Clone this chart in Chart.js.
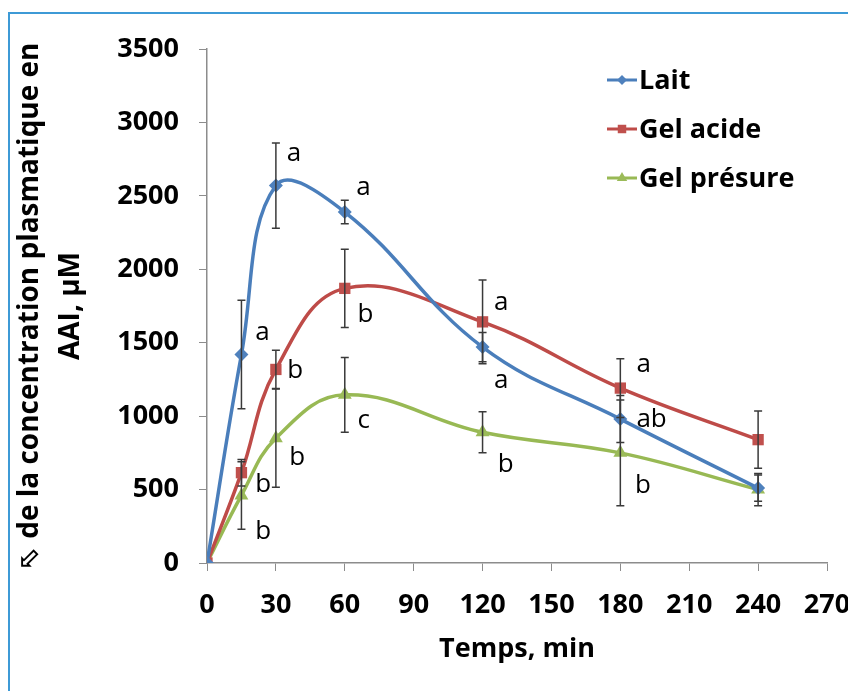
<!DOCTYPE html>
<html lang="fr">
<head>
    <meta charset="UTF-8">
    <title>Concentration plasmatique en AAI</title>
    <style>
        html, body { margin: 0; padding: 0; background: #fff; }
        #wrap { position: relative; width: 848px; height: 691px; }
        #frame { position: absolute; left: 8px; top: 12px; right: -4px; bottom: -4px;
                 border-left: 2px solid #3d9ad6; border-top: 2px solid #3d9ad6; }
        canvas { position: absolute; left: 0; top: 0; }
    </style>
</head>
<body>
<div id="wrap">
    <div id="frame"></div>
    <canvas id="chart" width="848" height="691"></canvas>
</div>

<script src="https://cdn.jsdelivr.net/npm/chart.js@4.4.1/dist/chart.umd.min.js"></script>
<script>
// temps de prélèvement (min)
const temps = [0, 15, 30, 60, 120, 180, 240];

// concentration plasmatique en AAI (µM) et écarts
const lait = [0, 1420, 2570, 2390, 1470, 980, 510];
const laitErr = [0, 370, 290, 80, 100, 160, 90];
const gelAcide = [0, 615, 1318, 1870, 1642, 1191, 840];
const gelAcideErr = [0, 90, 130, 267, 285, 200, 195];
const gelPresure = [0, 460, 850, 1145, 890, 750, 500];
const gelPresureErr = [0, 230, 335, 255, 140, 360, 110];

// lettres de significativité (position en unités des axes)
const lettres = [
    { t: "a", x: 21, y: 1566 }, { t: "a", x: 34.7, y: 2787 }, { t: "a", x: 65, y: 2555 },
    { t: "a", x: 125, y: 1245 }, { t: "ab", x: 187, y: 979 },
    { t: "b", x: 21, y: 535 }, { t: "b", x: 35, y: 1309 }, { t: "b", x: 65.5, y: 1693 },
    { t: "a", x: 125, y: 1776 }, { t: "a", x: 187, y: 1349 },
    { t: "b", x: 21, y: 217 }, { t: "b", x: 35.8, y: 718 }, { t: "c", x: 65.5, y: 972 },
    { t: "b", x: 126.6, y: 667 }, { t: "b", x: 186.4, y: 529 },
];

const xTicks = [0, 30, 60, 90, 120, 150, 180, 210, 240, 270];
const yTicks = [0, 500, 1000, 1500, 2000, 2500, 3000, 3500];

const FONT = '"Open Sans", "DejaVu Sans", sans-serif';

const series = [
    { label: "Lait", data: lait, err: laitErr, line: "#4a7ebb", fill: "#4f81bd", pt: "rectRot", r: 7 },
    { label: "Gel acide", data: gelAcide, err: gelAcideErr, line: "#be4b48", fill: "#c0504d", pt: "rect", r: 8 },
    { label: "Gel présure", data: gelPresure, err: gelPresureErr, line: "#98b954", fill: "#9bbb59", pt: "triangle", r: 8 },
];

const toPoints = arr => arr.map((v, i) => ({ x: temps[i], y: v }));

// barres d'erreur, lettres et légende
const extras = {
    id: "extras",
    afterDatasetsDraw(chart) {
        const { ctx, scales: { x, y } } = chart;
        ctx.save();
        ctx.strokeStyle = "#3a3a3a";
        ctx.lineWidth = 1.5;
        series.forEach(s => {
            s.err.forEach((e, i) => {
                if (!e) return;
                const px = x.getPixelForValue(temps[i]);
                const top = y.getPixelForValue(s.data[i] + e);
                const bot = y.getPixelForValue(s.data[i] - e);
                ctx.beginPath();
                ctx.moveTo(px, top); ctx.lineTo(px, bot);
                ctx.moveTo(px - 4, top); ctx.lineTo(px + 4, top);
                ctx.moveTo(px - 4, bot); ctx.lineTo(px + 4, bot);
                ctx.stroke();
            });
        });
        ctx.fillStyle = "#000";
        ctx.font = "26px " + FONT;
        ctx.textAlign = "left";
        ctx.textBaseline = "middle";
        lettres.forEach(l => {
            ctx.fillText(l.t, x.getPixelForValue(l.x), y.getPixelForValue(l.y));
        });

        // légende
        ctx.font = "bold 27px " + FONT;
        series.forEach((s, i) => {
            const ly = 80 + i * 49;
            ctx.strokeStyle = s.line;
            ctx.lineWidth = 3;
            ctx.beginPath();
            ctx.moveTo(607, ly); ctx.lineTo(637, ly);
            ctx.stroke();
            ctx.fillStyle = s.fill;
            Chart.helpers.drawPoint(ctx, { pointStyle: s.pt, radius: s.r - 2, borderWidth: 0 }, 622, ly);
            ctx.fillStyle = "#000";
            ctx.fillText(s.label, 639, ly + 1);
        });
        ctx.restore();
    },
};

new Chart("chart", {
    type: "line",
    data: {
        datasets: series.map(s => ({
            label: s.label,
            data: toPoints(s.data),
            borderColor: s.line,
            backgroundColor: s.fill,
            borderWidth: 3.5,
            pointStyle: s.pt,
            pointRadius: s.r,
            pointBorderWidth: 0,
            tension: 0.4,
        })),
    },
    options: {
        responsive: false,
        animation: false,
        layout: { padding: { left: 10, top: 49, right: 21, bottom: 21 } },
        plugins: { legend: { display: false }, tooltip: { enabled: false } },
        scales: {
            x: {
                type: "linear",
                min: 0,
                max: 270,
                afterBuildTicks: s => { s.ticks = xTicks.map(v => ({ value: v })); },
                afterFit: s => { s.height = 107; s.paddingLeft = 0; s.paddingRight = 0; },
                grid: { display: true, drawOnChartArea: false, color: "#8c8c8c", tickLength: 8 },
                border: { color: "#8c8c8c", width: 1.5 },
                ticks: { color: "#000", padding: 18, maxRotation: 0, callback: v => v,
                         font: { family: FONT, size: 27, weight: "bold" } },
                title: {
                    display: true, text: "Temps, min", color: "#000",
                    font: { family: FONT, size: 27, weight: "bold" }, padding: { top: 4, bottom: 4 },
                },
            },
            y: {
                min: 0,
                max: 3500,
                afterBuildTicks: s => { s.ticks = yTicks.map(v => ({ value: v })); },
                afterFit: s => { s.width = 197; s.paddingTop = 0; s.paddingBottom = 0; },
                grid: { display: true, drawOnChartArea: false, color: "#8c8c8c", tickLength: 8 },
                border: { color: "#8c8c8c", width: 1.5 },
                ticks: { color: "#000", padding: 20, callback: v => v,
                         font: { family: FONT, size: 27, weight: "bold" } },
                title: {
                    display: true,
                    text: ["\u2B01 de la concentration plasmatique en", "AAI, \u00B5M"],
                    color: "#000",
                    font: { family: FONT, size: 28, weight: "bold", lineHeight: 1.45 },
                    padding: 0,
                },
            },
        },
    },
    plugins: [extras],
});
</script>
</body>
</html>
